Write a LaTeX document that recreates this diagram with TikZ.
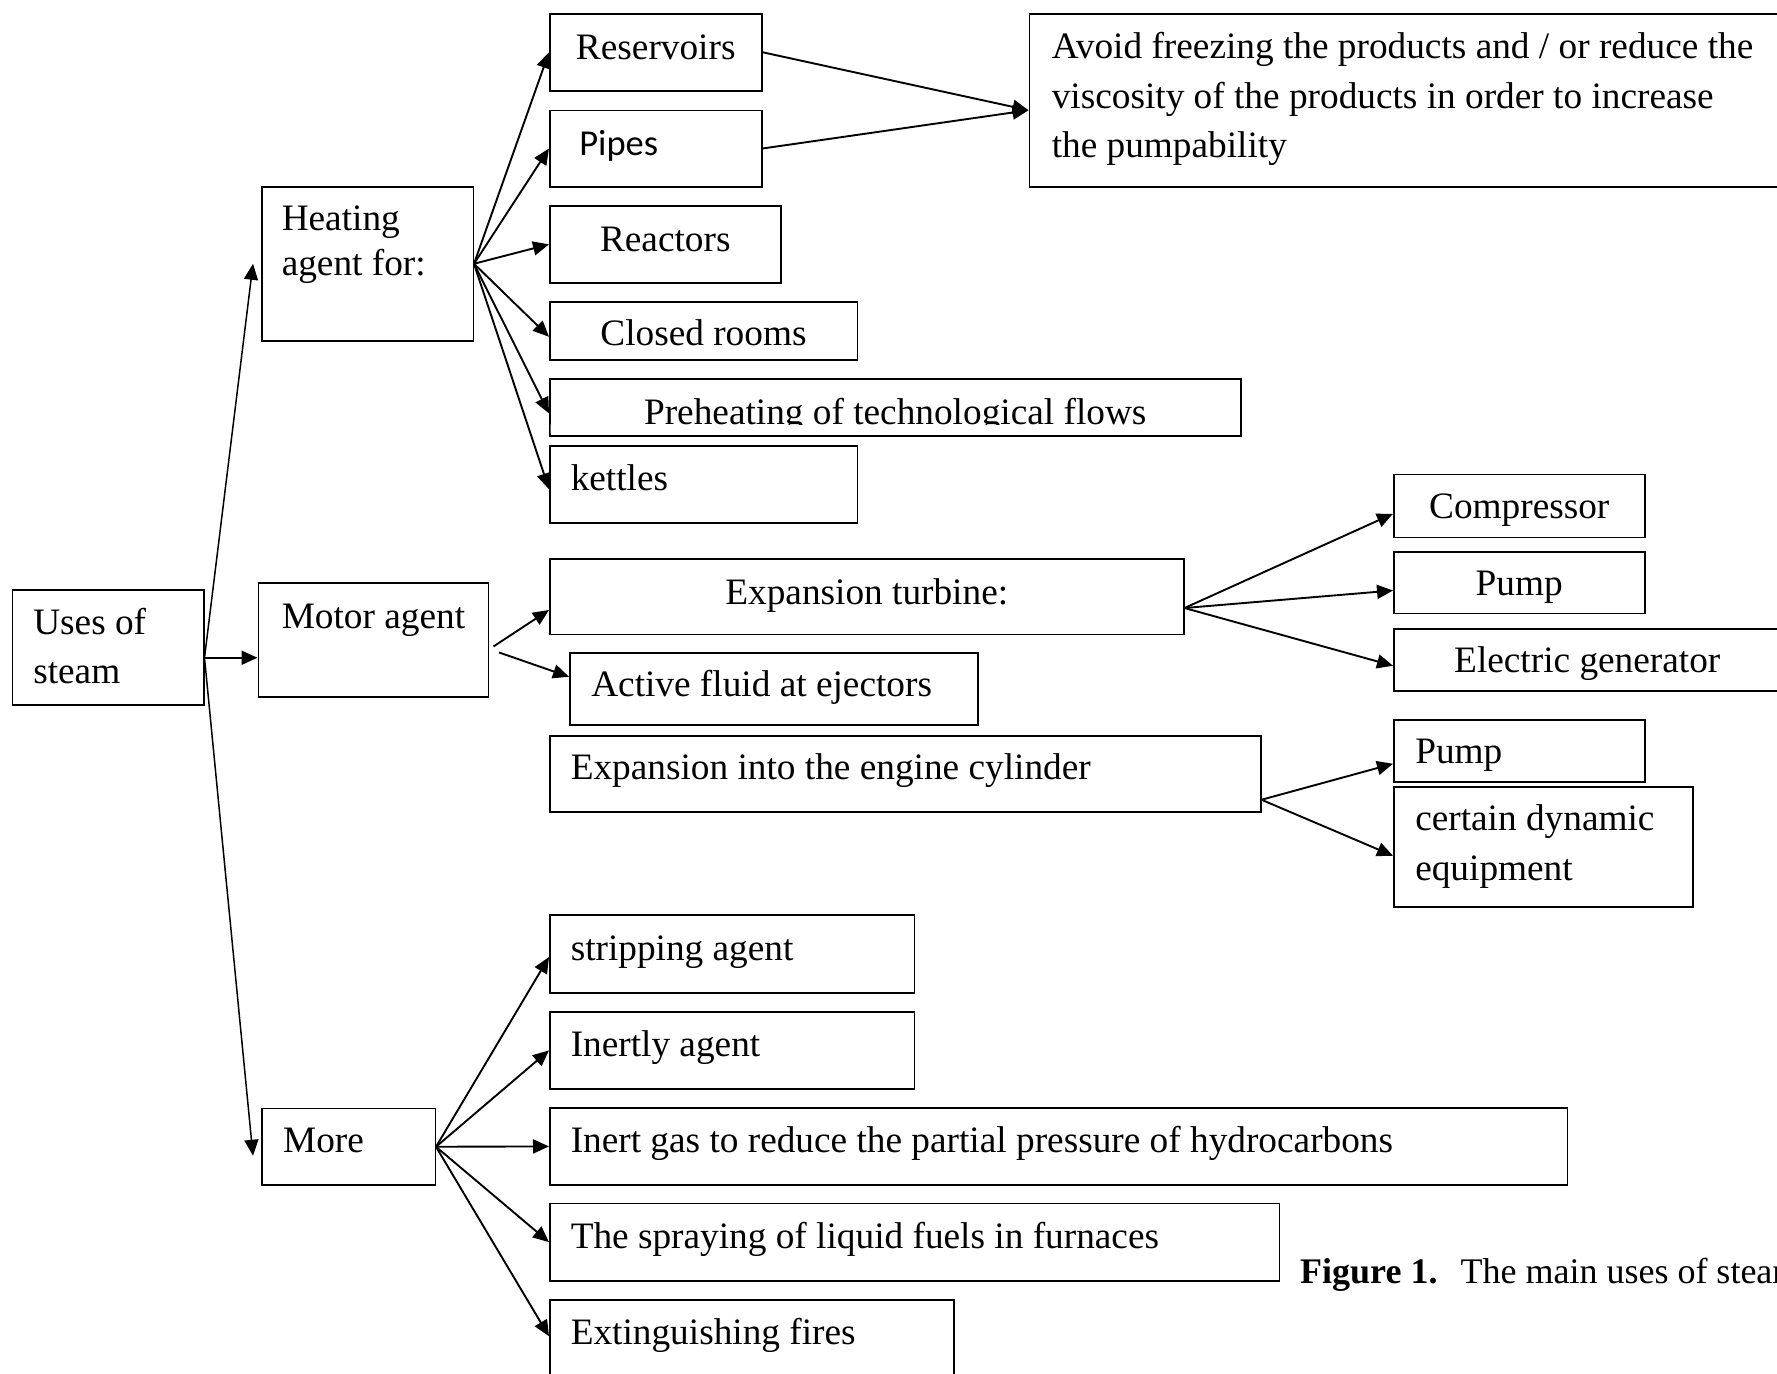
\documentclass[tikz,border=0pt]{standalone}
\usepackage{fontspec}
\setmainfont{Liberation Serif}
\newfontfamily\calfont{Carlito}
\usetikzlibrary{arrows.meta}
% #1 height, #2 width, #3 format, #4 baseline offset, #5 text
\newcommand\bt[5]{\parbox[c][#1pt][t]{#2pt}{#3\vspace*{\dimexpr#4pt-\ht\strutbox\relax}\strut#5}}
\tikzset{
  box/.style={draw, line width=1.5pt, inner sep=0pt, anchor=north west,
              font=\fontsize{37.3pt}{49.5pt}\selectfont},
  arr/.style={line width=1.9pt, -{Triangle[length=16pt,width=14pt]}},
  arrthin/.style={line width=1.5pt, -{Triangle[length=16pt,width=14pt]}},
}
\begin{document}
\begin{tikzpicture}[x=1pt,y=-1pt]
\useasboundingbox (0,0) rectangle (1777,1373);
\clip (0,0) rectangle (1777,1373);

% level 0 and 1
\node[box] (uses) at (11.5,589) {\bt{115}{191.5}{\leftskip=21pt}{44.3}{Uses of\\steam}};
\node[box, font=\fontsize{37.3pt}{44.8pt}\selectfont] (heat) at (261,186) {\bt{154}{211.5}{\leftskip=20pt}{43.7}{Heating\\agent for:}};
\node[box] (motor) at (257.5,582) {\bt{114}{230}{\leftskip=23.5pt}{45.3}{Motor agent}};
\node[box] (more) at (261,1107.7) {\bt{76.6}{173.5}{\leftskip=21.4pt}{44}{More}};

% heating targets
\node[box] (res) at (549,13) {\bt{77}{212}{\centering}{46}{Reservoirs}};
\node[box] (pipes) at (549,109.5) {\bt{76.5}{212}{\leftskip=29.6pt}{45.5}{{\calfont\fontsize{36.5pt}{45pt}\selectfont Pipes}}};
\node[box] (react) at (549,205.2) {\bt{76.8}{231}{\centering}{45.5}{Reactors}};
\node[box] (closed) at (549,301) {\bt{58}{307.5}{\centering}{44}{Closed rooms}};
\begin{scope}
  \clip (0,0) rectangle (1777,424.3) (0,433.5) rectangle (1777,1373)
        (0,424) rectangle (550.5,434) (1238.5,424) rectangle (1777,434);
  \node[box] (preheat) at (549,378.3) {\bt{56.7}{691}{\centering}{45}{Preheating of technological flows}};
\end{scope}
\node[box] (kettles) at (549,445) {\bt{77}{307.5}{\leftskip=21pt}{45}{kettles}};
\node[box] (avoid) at (1028.5,13) {\bt{173}{760}{\leftskip=22.5pt}{45}{Avoid freezing the products and / or reduce the\\viscosity of the products in order to increase\\the pumpability}};

% motor targets
\node[box] (turb) at (549,558) {\bt{75.5}{634}{\centering}{45.3}{Expansion turbine:}};
\node[box] (active) at (569,652) {\bt{72}{408}{\leftskip=21.5pt}{44}{Active fluid at ejectors}};
\node[box] (cyl) at (549,735) {\bt{76}{711}{\leftskip=21pt}{43.3}{Expansion into the engine cylinder}};
\node[box] (comp) at (1393,473.5) {\bt{63}{251}{\centering}{44.7}{Compressor}};
\node[box] (pumpa) at (1393,551) {\bt{61.5}{251}{\centering}{44}{Pump}};
\node[box] (elec) at (1393,628) {\bt{62}{387}{\centering}{43.7}{Electric generator}};
\node[box] (pumpb) at (1393,719) {\bt{62}{251}{\leftskip=21.5pt}{43.7}{Pump}};
\node[box] (cert) at (1393,786) {\bt{120}{299}{\leftskip=21.5pt}{44}{certain dynamic\\equipment}};

% more targets
\node[box] (strip) at (549,914.3) {\bt{78}{364.5}{\leftskip=21pt}{45.7}{stripping agent}};
\node[box] (inertly) at (549,1011) {\bt{77.3}{364.5}{\leftskip=21pt}{44.7}{Inertly agent}};
\node[box] (inertgas) at (549,1107) {\bt{77.3}{1017.7}{\leftskip=21pt}{44.7}{Inert gas to reduce the partial pressure of hydrocarbons}};
\node[box] (spray) at (549,1202.7) {\bt{77.3}{729.6}{\leftskip=21pt}{45}{The spraying of liquid fuels in furnaces}};
\node[box] (ext) at (549,1299) {\bt{77}{404}{\leftskip=21pt}{44.3}{Extinguishing fires}};

% caption
\node[anchor=base west, inner sep=0pt, font=\fontsize{36pt}{43pt}\selectfont] (cap) at (1300,1283)
  {\textbf{Figure 1.}\hspace{23pt}The main uses of steam};

% connector coordinates
\coordinate (fork) at ([yshift=-10.5pt]uses.east);
\coordinate (avin) at ([yshift=-10pt]avoid.west);
\coordinate (ma) at ([xshift=4.5pt,yshift=-6.7pt]motor.east);
\coordinate (mb) at ([xshift=10pt,yshift=-12.7pt]motor.east);
\coordinate (tf) at ([yshift=-11.5pt]turb.east);
\coordinate (cf) at ([yshift=-26pt]cyl.east);

% from uses
\draw[arrthin] (fork) -- ([xshift=-8pt]heat.west);
\draw[arr] (fork) -- ([yshift=-18pt]motor.west);
\draw[arrthin] (fork) -- ([xshift=-8pt,yshift=-9pt]more.west);

% heating fan
\draw[arr] (heat.east) -- (res.west);
\draw[arr] (heat.east) -- (pipes.west);
\draw[arr] (heat.east) -- (react.west);
\draw[arr] (heat.east) -- ([yshift=-6pt]closed.west);
\draw[arr] (heat.east) -- ([yshift=-6pt]preheat.west);
\draw[arr] (heat.east) -- ([yshift=-5pt]kettles.west);
\draw[arr] (res.east) -- (avin);
\draw[arr] (pipes.east) -- (avin);

% motor fan
\draw[arr] (ma) -- ([yshift=-13.5pt]turb.west);
\draw[arr] (mb) -- ([yshift=12pt]active.west);
\draw[arr] (tf) -- ([yshift=-8pt]comp.west);
\draw[arr] (tf) -- ([yshift=-8pt]pumpa.west);
\draw[arr] (tf) -- ([yshift=-6pt]elec.west);
\draw[arr] (cf) -- ([yshift=-13pt]pumpb.west);
\draw[arr] (cf) -- ([yshift=-9pt]cert.west);

% more fan
\draw[arr] (more.east) -- ([yshift=-3pt]strip.west);
\draw[arr] (more.east) -- (inertly.west);
\draw[arr] (more.east) -- (inertgas.west);
\draw[arr] (more.east) -- (spray.west);
\draw[arr] (more.east) -- ([yshift=2pt]ext.west);
\end{tikzpicture}
\end{document}
